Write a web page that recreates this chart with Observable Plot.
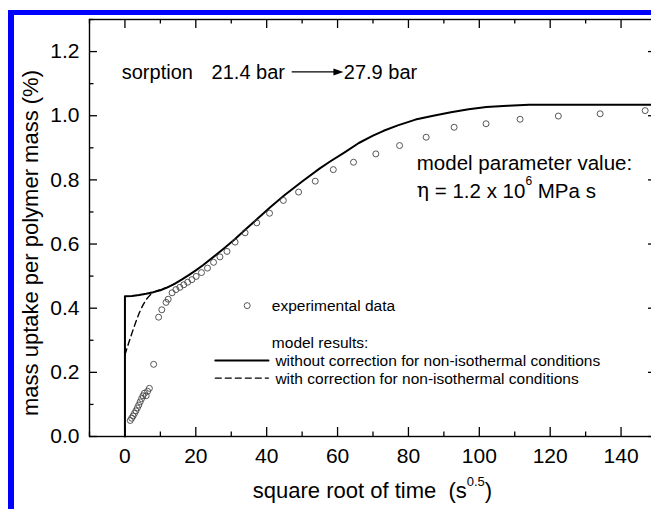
<!DOCTYPE html>
<html><head><meta charset="utf-8">
<script src="https://cdn.jsdelivr.net/npm/d3@7"></script>
<script src="https://cdn.jsdelivr.net/npm/@observablehq/plot@0.6"></script>
<style>
html,body{margin:0;padding:0;overflow:hidden;background:#fff;width:651px;height:509px;}
#wrap{position:relative;width:651px;height:509px;overflow:hidden;background:#fff;}
#chart{position:absolute;left:0;top:0;width:660px;}
#chart svg{max-width:none !important;}
#border{position:absolute;left:8px;top:10px;width:800px;height:800px;border-left:6px solid #0000ff;border-top:5px solid #0000ff;pointer-events:none;}
</style></head>
<body><div id="wrap"><div id="chart"></div><div id="border"></div></div>
<script>
// experimental data (sqrt time, mass uptake %)
const expX = [1.5,1.9,2.3,2.7,3.1,3.5,3.9,4.3,4.7,5.1,5.5,6.0,6.4,6.9,8.1,
  9.5,10.4,11.6,12.2,13.3,14.4,15.5,16.6,17.7,18.9,20.1,21.6,23.3,25.0,26.8,28.8,
  31.1,33.9,37.2,40.8,44.7,49.0,53.7,58.8,64.5,70.8,77.5,85.0,92.9,101.9,111.5,122.3,134.1,146.8];
const expY = [0.050,0.057,0.064,0.072,0.080,0.089,0.098,0.108,0.118,0.127,0.135,0.127,0.141,0.150,0.225,
  0.372,0.395,0.418,0.428,0.448,0.458,0.465,0.473,0.481,0.489,0.499,0.511,0.525,0.543,0.560,0.577,
  0.606,0.635,0.666,0.696,0.736,0.762,0.796,0.832,0.855,0.881,0.907,0.933,0.964,0.975,0.989,0.999,1.006,1.016];
// model without correction
const solidX = [0,0,2,4,6,8,10,12,14,16,18,20,22,25,28,31,34,37,41,45,50,55,58,62,66,70,73,77,82,87,92,97,102,108,114,150];
const solidY = [0,0.437,0.438,0.441,0.445,0.450,0.456,0.465,0.476,0.489,0.503,0.518,0.534,0.560,0.587,0.615,0.645,0.675,0.715,0.752,0.795,0.836,0.858,0.886,0.915,0.938,0.953,0.970,0.988,1.000,1.011,1.020,1.027,1.031,1.034,1.034];
// model with correction
const dashX = [0,1,2,3,4,5,6,7,8,9,10.5,12,14];
const dashY = [0.255,0.290,0.323,0.355,0.384,0.408,0.427,0.440,0.449,0.454,0.460,0.465,0.476];
// ticks
const xTicks = [0,20,40,60,80,100,120,140];
const xMinor = [-10,10,30,50,70,90,110,130,150];
const yTicks = [0,0.2,0.4,0.6,0.8,1.0,1.2];
const yMinor = [0.1,0.3,0.5,0.7,0.9,1.1,1.3];

const exp = expX.map((x,i)=>({x, y:expY[i]}));
const solid = solidX.map((x,i)=>({x, y:solidY[i]}));
const dash = dashX.map((x,i)=>({x, y:dashY[i]}));

const W = 660, H = 509, mL = 89, mR = 4, mT = 19, mB = 73;
const pw = W - mL - mR, ph = H - mT - mB;
const font = "'Liberation Sans', Arial, sans-serif";

const svg = Plot.plot({
  width: W, height: H,
  marginLeft: mL, marginRight: mR, marginTop: mT, marginBottom: mB,
  style: {fontFamily: font, fontSize: "21px", background: "transparent", color: "#000", maxWidth: "none"},
  x: {domain: [-10, 150]},
  y: {domain: [0, 1.3]},
  marks: [
    Plot.ruleX(xTicks, {x: d=>d, insetTop: ph-9, strokeWidth: 1.3}),
    Plot.ruleX(xTicks, {x: d=>d, insetBottom: ph-9, strokeWidth: 1.3}),
    Plot.ruleX(xMinor, {x: d=>d, insetTop: ph-4.5, strokeWidth: 1.3}),
    Plot.ruleX(xMinor, {x: d=>d, insetBottom: ph-4.5, strokeWidth: 1.3}),
    Plot.ruleY(yTicks, {y: d=>d, insetRight: pw-8, strokeWidth: 1.3}),
    Plot.ruleY(yTicks, {y: d=>d, insetLeft: pw-8, strokeWidth: 1.3}),
    Plot.ruleY(yMinor, {y: d=>d, insetRight: pw-4.5, strokeWidth: 1.3}),
    Plot.ruleY(yMinor, {y: d=>d, insetLeft: pw-4.5, strokeWidth: 1.3}),
    Plot.frame({stroke: "#000", strokeWidth: 1.4}),
    Plot.axisX(xTicks, {tickSize: 0, tickPadding: 12, label: null, fontSize: 21}),
    Plot.axisY(yTicks, {tickSize: 0, tickPadding: 10, label: null, fontSize: 21, tickFormat: d3.format(".1f")}),
    Plot.line(solid, {x: "x", y: "y", stroke: "#000", strokeWidth: 2}),
    Plot.line(dash, {x: "x", y: "y", stroke: "#000", strokeWidth: 1.4, strokeDasharray: "6,4"}),
    Plot.dot(exp, {x: "x", y: "y", r: 3, stroke: "#444", strokeWidth: 0.9, fill: "none"}),
    // legend
    Plot.dot([{x: 34.5, y: 0.408}], {x: "x", y: "y", r: 3, stroke: "#444", strokeWidth: 0.9, fill: "none"}),
    Plot.line([{x: 25.5, y: 0.237}, {x: 40.5, y: 0.237}], {x: "x", y: "y", stroke: "#000", strokeWidth: 2}),
    Plot.line([{x: 25.5, y: 0.182}, {x: 40.5, y: 0.182}], {x: "x", y: "y", stroke: "#000", strokeWidth: 1.4, strokeDasharray: "6,4"})
  ]
});
svg.style.maxWidth = "none";

const X = svg.scale("x"), Y = svg.scale("y");
const g = d3.select(svg).append("g").attr("font-family", font).attr("fill", "#000").style("white-space", "pre");
function txt(xv, yv, size, parts, anchor="start") {
  const t = g.append("text").attr("x", X.apply(xv)).attr("y", Y.apply(yv))
    .attr("font-size", size).attr("dominant-baseline", "central").attr("text-anchor", anchor);
  parts.forEach(p => {
    const s = t.append("tspan").text(p.t);
    if (p.dy) s.attr("dy", p.dy);
    if (p.size) s.attr("font-size", p.size);
    if (p.family) s.attr("font-family", p.family);
  });
  return t;
}
// annotations
txt(-0.76, 1.135, 20, [{t: "sorption"}]);
txt(24.6, 1.135, 20, [{t: "21.4 bar"}]);
g.append("line").attr("x1", X.apply(47.2)).attr("x2", X.apply(59.5))
  .attr("y1", Y.apply(1.135)).attr("y2", Y.apply(1.135)).attr("stroke", "#000").attr("stroke-width", 1.2);
{
  const ax = X.apply(61.8), ay = Y.apply(1.135);
  g.append("path").attr("d", `M${ax},${ay}L${ax-10},${ay-3.5}L${ax-10},${ay+3.5}Z`).attr("fill", "#000");
}
txt(61.9, 1.135, 20, [{t: "27.9 bar"}]);
txt(82.5, 0.854, 20.5, [{t: "model parameter value:"}]);
txt(82.5, 0.767, 20.5, [{t: "η", family: "'DejaVu Serif', serif"}, {t: " = 1.2 x 10"}, {t: "6", size: 12, dy: -9}, {t: " MPa s", dy: 9}]);
// legend text
txt(41.6, 0.408, 15.5, [{t: "experimental data"}]);
txt(41.6, 0.292, 15.5, [{t: "model results:"}]);
txt(42.6, 0.237, 15.5, [{t: "without correction for non-isothermal conditions"}]);
txt(42.6, 0.182, 15.5, [{t: "with correction for non-isothermal conditions"}]);
// axis titles
g.append("text").attr("x", (mL + W - mR) / 2).attr("y", 490).attr("text-anchor", "middle")
  .attr("dominant-baseline", "central").attr("font-size", 22)
  .call(t => {
    t.append("tspan").text("square root of time  (s");
    t.append("tspan").text("0.5").attr("font-size", 13).attr("dy", -9);
    t.append("tspan").text(")").attr("dy", 9);
  });
g.append("text").attr("transform", "translate(30,243) rotate(-90)").attr("text-anchor", "middle")
  .attr("dominant-baseline", "central").attr("font-size", 22)
  .text("mass uptake per polymer mass (%)");

document.getElementById("chart").appendChild(svg);
</script>
</body></html>
